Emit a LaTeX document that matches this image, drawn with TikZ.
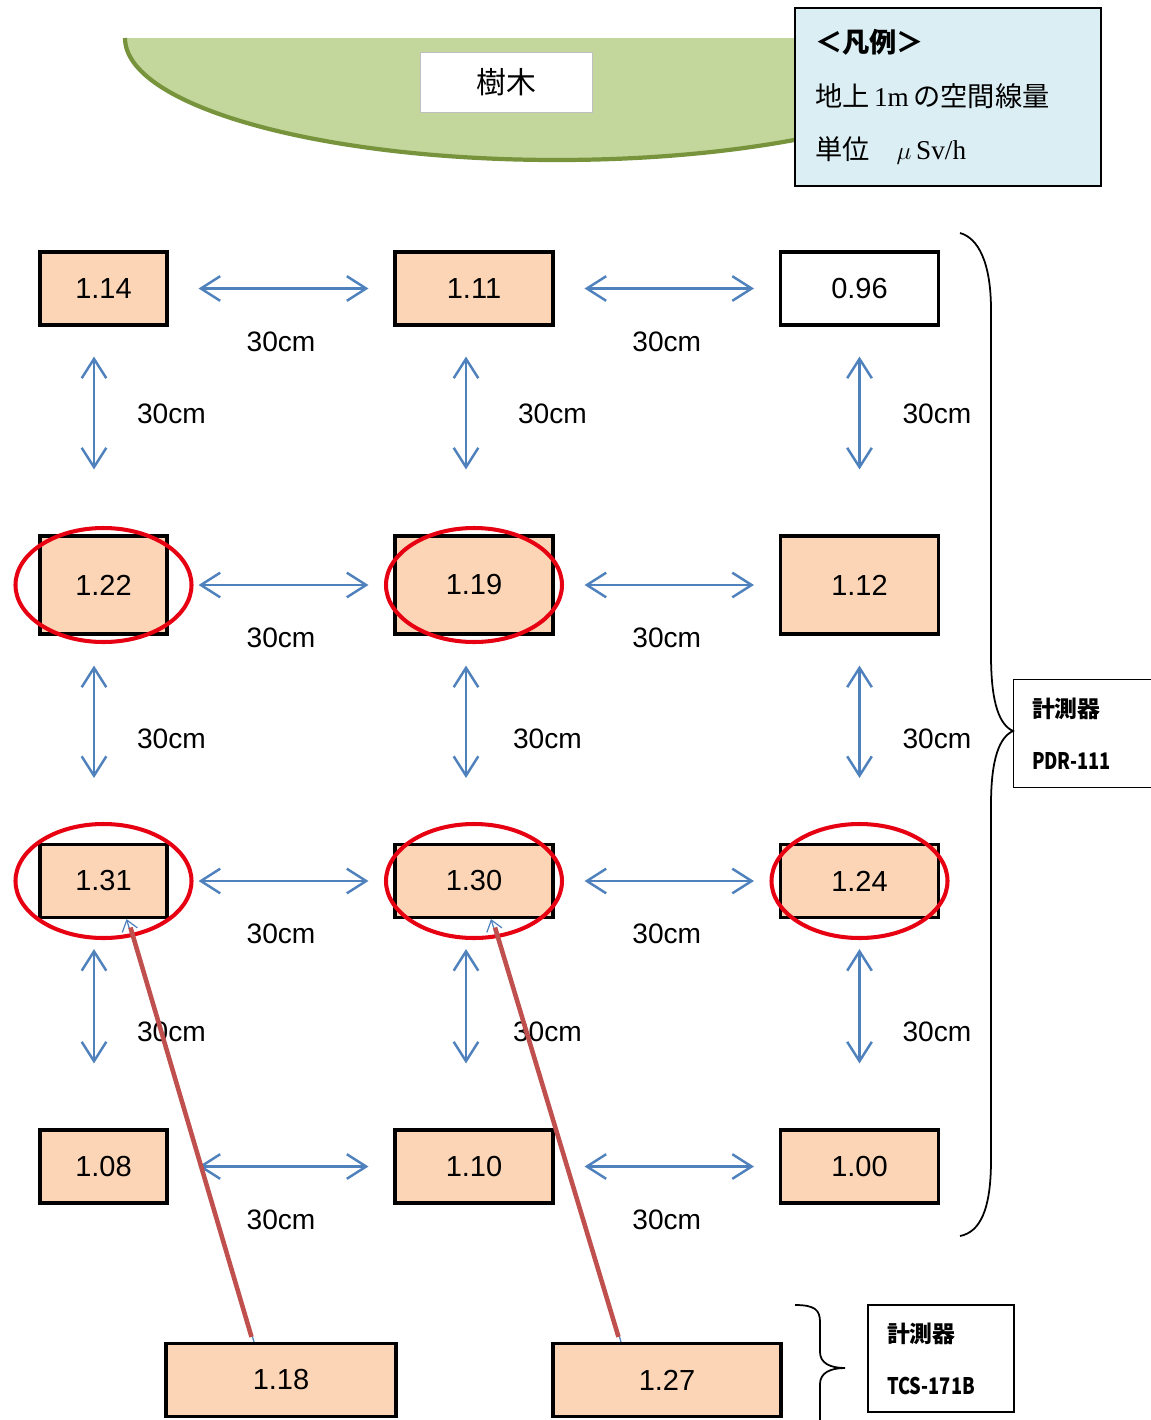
\documentclass[tikz,border=0pt]{standalone}
\usepackage{fontspec}
\usepackage{tikz}
\usetikzlibrary{arrows.meta}
\setmainfont{Liberation Serif}
\newfontfamily\cjk{Noto Sans CJK JP}
\newfontfamily\arial{Liberation Sans}
\definecolor{peach}{HTML}{FBD5B5}
\definecolor{dimblue}{HTML}{4F81BD}
\definecolor{leaf}{HTML}{C3D69B}
\definecolor{leafedge}{HTML}{77933C}
\definecolor{note}{HTML}{DBEEF4}
\definecolor{ring}{RGB}{230,0,18}
\definecolor{pointer}{HTML}{C0504D}
\newcommand{\slim}[1]{\scalebox{0.8}[1]{#1}}

\begin{document}
\begin{tikzpicture}[x=0.02cm, y=-0.02cm,
  val/.style={draw, line width=1.8pt, fill=peach, inner sep=0pt,
    minimum height=1.46cm, font=\arial\fontsize{16.5}{18}\selectfont},
  narrow/.style={val, minimum width=2.54cm},
  wide/.style={val, minimum width=3.16cm},
  dim/.style={draw=dimblue, line width=1.4pt,
    {Straight Barb[length=11pt,width=14pt]}-{Straight Barb[length=11pt,width=14pt]}},
  hgap/.style={dim, shorten <=0.6cm, shorten >=0.5cm},
  vgap/.style={dim, shorten <=0.6cm, shorten >=1.3cm},
  len/.style={font=\arial\fontsize{16}{18}\selectfont},
  hot/.style={draw=ring, line width=2.3pt},
  pointer/.style={draw=pointer, line width=2.6pt},
  meter/.style={line width=0.8pt, align=left, minimum height=2.14cm,
    font=\cjk\bfseries\fontsize{13}{29.5}\selectfont}]
  \useasboundingbox (0,0) rectangle (1151,1420);

  % tree and legend
  \fill[leaf] (125,38) arc[start angle=180, end angle=0, x radius=432, y radius=122] -- cycle;
  \draw[leafedge, line width=2.4pt] (125,38) arc[start angle=180, end angle=0, x radius=432, y radius=122];
  \node[draw=gray!50, fill=white, minimum width=3.44cm, minimum height=1.2cm,
    font=\cjk\fontsize{17}{20}\selectfont] (tree) at (506,82) {樹木};
  \node[draw, line width=0.8pt, fill=note, text width=5.32cm, inner xsep=0.4cm,
    minimum height=3.56cm, align=left, font=\fontsize{15.5}{30.6}\selectfont]
    (key) at (948,97) {{\cjk\bfseries ＜凡例＞}\\{\cjk 地上}\,1m\,{\cjk の空間線量}\\{\cjk 単位}\quad$\mu$\,Sv/h};

  % measuring points
  \node[narrow] (p11) at (103.5,288.5) {1.14};
  \node[wide] (p12) at (474,288.5) {1.11};
  \node[wide, fill=white] (p13) at (859.5,288.5) {0.96};
  \node[narrow, minimum height=1.96cm] (p21) at (103.5,585) {1.22};
  \node[wide, minimum height=1.96cm] (p22) at (474,585) {1.19};
  \node[wide, minimum height=1.96cm] (p23) at (859.5,585) {1.12};
  \node[narrow] (p31) at (103.5,881) {1.31};
  \node[wide] (p32) at (474,881) {1.30};
  \node[wide] (p33) at (859.5,881) {1.24};
  \node[narrow] (p41) at (103.5,1166.5) {1.08};
  \node[wide] (p42) at (474,1166.5) {1.10};
  \node[wide] (p43) at (859.5,1166.5) {1.00};
  \node[val, minimum width=4.6cm] (t1) at (281,1380) {1.18};
  \node[val, minimum width=4.56cm] (t2) at (667,1380) {1.27};

  % distances
  \draw[hgap] (p11) -- node[len, below=0.72cm] {30cm} (p12);
  \draw[hgap] (p12) -- node[len, below=0.72cm] {30cm} (p13);
  \draw[hgap] (p21) -- node[len, below=0.72cm] {30cm} (p22);
  \draw[hgap] (p22) -- node[len, below=0.72cm] {30cm} (p23);
  \draw[hgap] (p31) -- node[len, below=0.72cm] {30cm} (p32);
  \draw[hgap] (p32) -- node[len, below=0.72cm] {30cm} (p33);
  \draw[hgap] (p41) -- node[len, below=0.72cm] {30cm} (p42);
  \draw[hgap] (p42) -- node[len, below=0.72cm] {30cm} (p43);
  \draw[vgap] ([xshift=-0.19cm]p11.south) -- node[len, pos=0.42, right=0.72cm] {30cm} ([xshift=-0.19cm]p21.north);
  \draw[vgap] ([xshift=-0.19cm]p21.south) -- node[len, right=0.72cm] {30cm} ([xshift=-0.19cm]p31.north);
  \draw[vgap] ([xshift=-0.19cm]p31.south) -- node[len, pos=0.54, right=0.72cm] {30cm} ([xshift=-0.19cm]p41.north);
  \draw[vgap] ([xshift=-0.16cm]p12.south) -- node[len, pos=0.42, right=0.9cm] {30cm} ([xshift=-0.16cm]p22.north);
  \draw[vgap] ([xshift=-0.16cm]p22.south) -- node[len, right=0.8cm] {30cm} ([xshift=-0.16cm]p32.north);
  \draw[vgap] ([xshift=-0.16cm]p32.south) -- node[len, pos=0.54, right=0.8cm] {30cm} ([xshift=-0.16cm]p42.north);
  \draw[vgap] (p13) -- node[len, pos=0.42, right=0.72cm] {30cm} (p23);
  \draw[vgap] (p23) -- node[len, right=0.72cm] {30cm} (p33);
  \draw[vgap] (p33) -- node[len, pos=0.54, right=0.72cm] {30cm} (p43);

  % high readings
  \draw[hot] (p21.center) ellipse[x radius=88, y radius=57];
  \draw[hot] (p22.center) ellipse[x radius=88, y radius=57];
  \draw[hot] (p31.center) ellipse[x radius=88, y radius=57];
  \draw[hot] (p32.center) ellipse[x radius=88, y radius=57];
  \draw[hot] (p33.center) ellipse[x radius=88, y radius=57];

  % second meter readings
  \draw[dimblue, line width=0.7pt, -{Straight Barb[length=6pt,width=9pt]}]
    ([xshift=-0.54cm]t1.north) -- ([xshift=0.46cm]p31.south);
  \draw[pointer, shorten >=5pt, shorten <=3pt] ([xshift=-0.56cm]t1.north) -- ([xshift=0.49cm]p31.south);
  \draw[dimblue, line width=0.7pt, -{Straight Barb[length=6pt,width=9pt]}]
    ([xshift=-0.92cm]t2.north) -- ([xshift=0.34cm]p32.south);
  \draw[pointer, shorten >=5pt, shorten <=3pt] ([xshift=-0.94cm]t2.north) -- ([xshift=0.37cm]p32.south);

  % instruments
  \node[meter, text width=2.02cm, inner xsep=0.36cm] (pdr) at (1082.5,733.5) {計測器\\\slim{PDR-111}};
  \draw[line width=0.8pt] (pdr.north east) -- (pdr.north west) -- (pdr.south west) -- (pdr.south east);
  \node[meter, draw, text width=2.16cm, inner xsep=0.38cm] (tcs) at (941,1358.5) {計測器\\\slim{TCS-171B}};
  \draw[line width=1pt] (960,233) .. controls (978,238) and (991,262) .. (991,310)
    -- (991,655) .. controls (991,705) and (1000,725) .. (1013,731)
    .. controls (1000,737) and (991,757) .. (991,805)
    -- (991,1160) .. controls (991,1210) and (980,1232) .. (960,1236);
  \draw[line width=1pt] (795,1305) .. controls (815,1305) and (820,1310) .. (820,1322)
    -- (820,1352) .. controls (820,1363) and (830,1368) .. (845,1368)
    .. controls (830,1368) and (820,1373) .. (820,1384) -- (820,1420);
\end{tikzpicture}
\end{document}
